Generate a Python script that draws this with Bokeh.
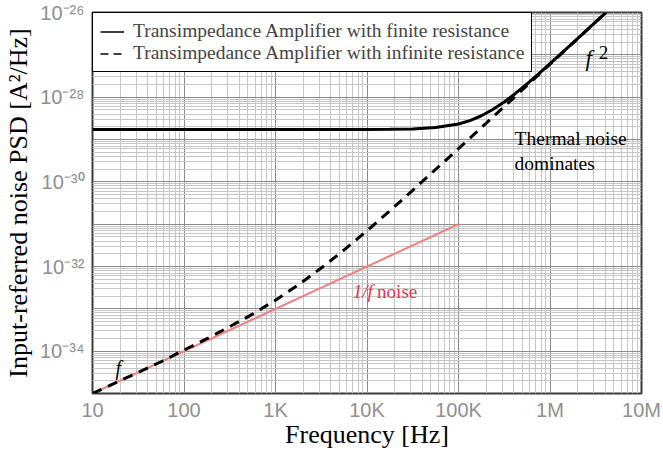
from bokeh.plotting import figure
from bokeh.models import FixedTicker, Label, Legend, LegendItem
from bokeh.embed import file_html
from bokeh.resources import INLINE

# ---- data ----
freq_hz = [10, 17.8, 31.6, 56.2, 100, 178, 316, 562, 1000, 1780, 3160, 5620,
           1e4, 1.78e4, 3.16e4, 5.62e4, 1e5, 1.33e5, 1.78e5, 2.37e5, 3.16e5,
           4.22e5, 5.62e5, 7.5e5, 1e6, 1.78e6, 3.16e6, 4.1e6]
psd_finite = [1.72e-29, 1.72e-29, 1.72e-29, 1.72e-29, 1.72e-29, 1.72e-29, 1.72e-29,
              1.72e-29, 1.72e-29, 1.72e-29, 1.72e-29, 1.72e-29, 1.72e-29, 1.74e-29,
              1.78e-29, 1.92e-29, 2.33e-29, 2.79e-29, 3.64e-29, 5.11e-29, 7.7e-29,
              1.24e-28, 2.07e-28, 3.54e-28, 6.2e-28, 1.92e-27, 6.0e-27, 1.0e-26]
psd_infinite = [1.0e-35, 1.78e-35, 3.16e-35, 5.62e-35, 1.06e-34, 1.97e-34, 3.8e-34,
                7.5e-34, 1.6e-33, 3.7e-33, 9.2e-33, 2.46e-32, 7.0e-32, 2.08e-31,
                6.3e-31, 1.96e-30, 6.1e-30, 1.07e-29, 1.92e-29, 3.39e-29, 6.0e-29,
                1.07e-28, 1.9e-28, 3.37e-28, 6.0e-28, 1.9e-27, 6.0e-27, 1.0e-26]
flicker_freq = [10, 1e5]
flicker_psd = [1e-35, 1e-31]

x_tick_values = [10.0, 100.0, 1e3, 1e4, 1e5, 1e6, 1e7]
x_tick_labels = ["10", "100", "1K", "10K", "100K", "1M", "10M"]
y_exponents = list(range(-35, -25))
y_labeled_exponents = [-34, -32, -30, -28, -26]

legend_labels = ["Transimpedance Amplifier with finite resistance",
                 "Transimpedance Amplifier with infinite resistance"]

SERIF = "Liberation Serif"
SANS = "Liberation Sans"
NAN = float("nan")

p = figure(width=663, height=453, x_axis_type="log", y_axis_type="log",
           x_range=(10, 1e7), y_range=(1e-35, 1e-26),
           output_backend="svg", toolbar_location=None,
           min_border_left=91, min_border_right=22, min_border_top=12,
           min_border_bottom=60)
p.background_fill_color = "white"
p.border_fill_color = "white"
p.outline_line_color = "#3a3a3a"
p.outline_line_width = 2

# ticks
x_minor = [m * v for v in x_tick_values[:-1] for m in range(2, 10)]
p.xaxis.ticker = FixedTicker(ticks=x_tick_values, minor_ticks=x_minor)
p.xaxis.major_label_overrides = dict(zip(x_tick_values, x_tick_labels))

y_ticks = [float(f"1e{e}") for e in y_exponents]
y_minor = [m * float(f"1e{e}") for e in y_exponents[:-1] for m in range(2, 10)]
p.yaxis.ticker = FixedTicker(ticks=y_ticks, minor_ticks=y_minor)
sup = str.maketrans("-0123456789", "⁻⁰¹²³⁴⁵⁶⁷⁸⁹")
p.yaxis.major_label_overrides = {
    float(f"1e{e}"): ("10" + str(e).translate(sup)) if e in y_labeled_exponents else ""
    for e in y_exponents
}

for ax in (p.xaxis[0], p.yaxis[0]):
    ax.axis_line_color = None
    ax.major_tick_line_color = None
    ax.minor_tick_line_color = None
    ax.major_tick_out = 0
    ax.major_tick_in = 0
    ax.minor_tick_out = 0
    ax.minor_tick_in = 0
    ax.major_label_text_font = SANS
    ax.major_label_text_font_size = "20px"
    ax.major_label_text_color = "#8f8f8f"
    ax.axis_label_text_font = SERIF
    ax.axis_label_text_font_size = "26px"
    ax.axis_label_text_font_style = "normal"
    ax.axis_label_text_color = "black"

p.xaxis.axis_label = "Frequency [Hz]"
p.yaxis.axis_label = "Input-referred noise PSD [A²/Hz]"
p.xaxis.major_label_standoff = 5
p.yaxis.major_label_standoff = 8
p.xaxis.axis_label_standoff = -4
p.yaxis.axis_label_standoff = 4

for g in (p.xgrid[0], p.ygrid[0]):
    g.grid_line_color = "#8a8a8a"
    g.grid_line_width = 1
    g.minor_grid_line_color = "#c6c6c6"
    g.minor_grid_line_width = 1

# curves
p.line(flicker_freq, flicker_psd, line_color="#f08080", line_width=2)
p.line(freq_hz, psd_infinite, line_color="black", line_width=3, line_dash="10 7")
p.line(freq_hz, psd_finite, line_color="black", line_width=3)

# legend proxies (thin lines as in the reference legend; NaN data draws nothing)
leg_solid = p.line([NAN], [NAN], line_color="black", line_width=1.5)
leg_dash = p.line([NAN], [NAN], line_color="black", line_width=1.5, line_dash="8 5")
legend = Legend(items=[LegendItem(label=legend_labels[0], renderers=[leg_solid]),
                       LegendItem(label=legend_labels[1], renderers=[leg_dash])],
                location="top_left")
legend.margin = 0
legend.padding = 7
legend.spacing = 0
legend.glyph_width = 24
legend.glyph_height = 21
legend.label_height = 21
legend.label_standoff = 9
legend.label_text_font = SERIF
legend.label_text_font_size = "19.5px"
legend.border_line_color = "black"
legend.border_line_alpha = 1.0
legend.border_line_width = 1.5
legend.background_fill_color = "white"
legend.background_fill_alpha = 1
p.add_layout(legend)

# annotations
def add_label(x, y, text, size, style="normal", color="black"):
    p.add_layout(Label(x=x, y=y, text=text, text_font=SERIF, text_font_size=size,
                       text_font_style=style, text_color=color,
                       text_align="left", text_baseline="alphabetic"))

add_label(2.45e6, 8.2e-28, "f", "23px", "italic")
add_label(3.4e6, 1.13e-27, "2", "19px")
add_label(4.1e5, 1.05e-29, "Thermal noise", "19.5px")
add_label(4.1e5, 2.7e-30, "dominates", "19.5px")
add_label(7.0e3, 2.56e-33, "1/f", "19px", "italic", "#e8334f")
add_label(1.29e4, 2.56e-33, "noise", "19px", "normal", "#e8334f")
add_label(17.8, 4.1e-35, "f", "20px", "italic")

open("out.html", "w").write(file_html(p, INLINE))
